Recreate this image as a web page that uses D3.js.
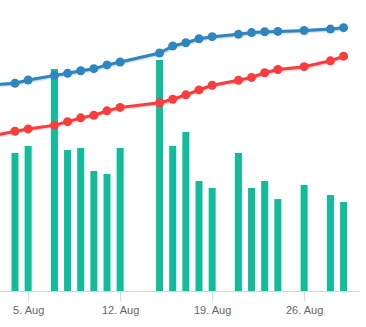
<!DOCTYPE html>
<html>
<head>
<meta charset="utf-8">
<script src="https://cdn.jsdelivr.net/npm/d3@7"></script>
<style>
  html, body { margin: 0; padding: 0; background: #fff; }
  svg { display: block; }
</style>
</head>
<body>
<svg id="chart" width="366" height="327"></svg>
<script>
// Daily observations (UTC dates, August)
const days = [2, 4, 5, 7, 8, 9, 10, 11, 12, 15, 16, 17, 18, 19, 21, 22, 23, 24, 26, 28, 29];

// Column series (left-hand axis, hidden)
const barValues = [120, 118.6, 124.6, 190.7, 121.1, 122.9, 103.1, 100.5, 122.9, 198.5, 124.6,
                   136.6, 94.5, 88.5, 118.6, 88.5, 94.5, 79.0, 91.1, 82.5, 76.5];

// Line series (right-hand axis, hidden)
const blueValues = [70.8, 71.4, 72.5, 74.1, 74.8, 75.7, 76.4, 77.7, 78.7, 81.8, 84.2,
                    85.3, 86.7, 87.4, 88.2, 88.8, 89.1, 89.2, 89.5, 90.0, 90.5];
const redValues  = [53.1, 54.9, 55.7, 57.0, 58.2, 59.5, 60.4, 61.9, 63.1, 64.7, 65.9,
                    67.4, 69.1, 70.7, 72.4, 73.4, 75.0, 76.1, 77.1, 79.1, 80.7];

// Weekly tick labels on the time axis
const tickDays = [5, 12, 19, 26];

const YEAR = 2019, MONTH = 7;
const date = d => new Date(Date.UTC(YEAR, MONTH, d));

const colors = { bar: "#12bc9b", blue: "#2e86c1", red: "#fb3c3c", axis: "#ccd6eb", label: "#666666" };

const svg = d3.select("#chart");
const plot = { left: 0, right: 360, top: 0, bottom: 291 };

const x = d3.scaleUtc()
  .domain([new Date(Date.UTC(YEAR, MONTH, 2, 20, 36)), new Date(Date.UTC(YEAR, MONTH, 30, 6, 0))])
  .range([plot.left, plot.right]);
const yBar = d3.scaleLinear().domain([0, 250]).range([plot.bottom, plot.top]);
const yLine = d3.scaleLinear().domain([0, 100]).range([plot.bottom, plot.top]);

svg.append("defs").append("clipPath").attr("id", "plot-clip")
  .append("rect")
  .attr("x", plot.left).attr("y", plot.top - 10)
  .attr("width", plot.right - plot.left).attr("height", plot.bottom - plot.top + 10);

const rows = days.map((d, i) => ({
  date: date(d), bar: barValues[i], blue: blueValues[i], red: redValues[i]
}));

// x axis
const xAxis = d3.axisBottom(x)
  .tickValues(tickDays.map(date))
  .tickFormat(d3.utcFormat("%-d. %b"))
  .tickSize(10)
  .tickPadding(5);

const gx = svg.append("g")
  .attr("transform", `translate(0,${plot.bottom + 0.5})`)
  .call(xAxis);
gx.select(".domain").attr("stroke", colors.axis).attr("d", `M${plot.left},0H${plot.right}`);
gx.selectAll(".tick line").attr("stroke", colors.axis);
gx.selectAll(".tick text")
  .attr("fill", colors.label)
  .style("font-family", "'Liberation Sans', Arial, Helvetica, sans-serif")
  .style("font-size", "11px");

const g = svg.append("g").attr("clip-path", "url(#plot-clip)");

// columns
const barWidth = 7;
g.append("g").selectAll("rect")
  .data(rows)
  .join("rect")
  .attr("x", d => x(d.date) - barWidth / 2)
  .attr("y", d => yBar(d.bar))
  .attr("width", barWidth)
  .attr("height", d => yBar(0) - yBar(d.bar))
  .attr("fill", colors.bar);

// lines with soft shadow and point markers
function drawSeries(key, color) {
  const line = d3.line().x(d => x(d.date)).y(d => yLine(d[key]));
  const s = g.append("g");
  const sh = s.append("g").attr("transform", "translate(1,1)");
  [[5, 0.05], [3, 0.1], [1, 0.15]].forEach(([w, o]) => {
    sh.append("path")
      .attr("d", line(rows))
      .attr("fill", "none")
      .attr("stroke", "#000")
      .attr("stroke-opacity", o)
      .attr("stroke-width", w)
      .attr("stroke-linejoin", "round")
      .attr("stroke-linecap", "round");
  });
  s.append("path")
    .attr("d", line(rows))
    .attr("fill", "none")
    .attr("stroke", color)
    .attr("stroke-width", 3)
    .attr("stroke-linejoin", "round")
    .attr("stroke-linecap", "round");
  s.append("g").selectAll("circle")
    .data(rows)
    .join("circle")
    .attr("cx", d => x(d.date))
    .attr("cy", d => yLine(d[key]))
    .attr("r", 4.5)
    .attr("fill", color);
}

drawSeries("red", colors.red);
drawSeries("blue", colors.blue);
</script>
</body>
</html>
